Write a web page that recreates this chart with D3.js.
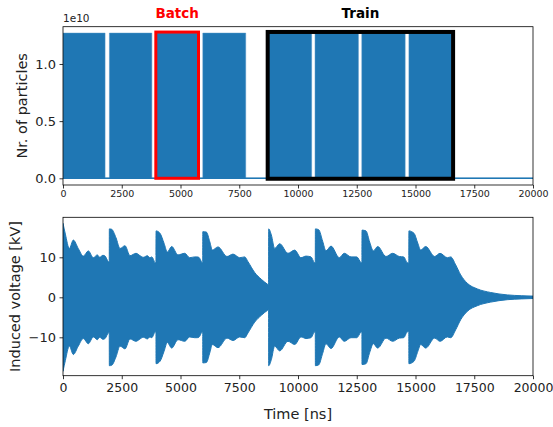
<!DOCTYPE html>
<html>
<head>
<meta charset="utf-8">
<script src="https://cdn.jsdelivr.net/npm/d3@7"></script>
<style>
  body { margin: 0; background: #fff; }
  svg { font-family: "DejaVu Sans", sans-serif; }
</style>
</head>
<body>
<div id="chart"></div>
<script>
// ---- data ----
const batchStart = [0, 1975, 3965, 5950, 8740, 10725, 12715, 14720];   // ns
const batchEnd   = [1790, 3780, 5770, 7775, 10580, 12570, 14560, 16545]; // ns
const bunchIntensity = 1.27e10;

// highlight boxes: [t0, t1, n0, n1]
const batchBox = [3950, 5766, 0, 1.279e10];
const trainBox = [8710, 16600, -0.004e10, 1.28e10];

// induced voltage envelope (kV), the RF oscillation fills +/- envelope
const envTime = [0, 100, 270, 440, 650, 865, 1077, 1290, 1460, 1560, 1700, 1790, 1930, 1968,
  1972, 2070, 2255, 2426, 2638, 2851, 3106, 3277, 3419, 3589, 3702, 3780, 3915, 3956,
  3960, 4128, 4300, 4440, 4625, 4894, 5179, 5391, 5600, 5700, 5780, 5915, 5946,
  5950, 6100, 6250, 6355, 6596, 6979, 7234, 7519, 7732, 7872, 8157, 8440, 8694, 8748,
  8753, 8865, 9008, 9221, 9574, 9860, 10128, 10340, 10553, 10695, 10735,
  10740, 10880, 11050, 11191, 11404, 11757, 11970, 12255, 12500, 12681, 12720,
  12725, 12894, 13050, 13206, 13392, 13745, 14030, 14311, 14500, 14638, 14715,
  14720, 14936, 15100, 15221, 15434, 15817, 16043, 16355, 16498, 16711, 16923,
  17206, 17632, 18200, 18906, 19500, 20000];
const envKV = [18.5, 15.8, 12.2, 14.3, 12.2, 10.3, 11.6, 9.9, 10.6, 10.0, 10.5, 10.3, 8.9, 8.8,
  17.1, 17.0, 14.9, 12.2, 12.9, 10.4, 11.0, 10.4, 10.0, 10.4, 9.9, 10.1, 8.7, 8.6,
  16.6, 16.0, 13.5, 11.3, 12.7, 10.6, 11.0, 9.9, 10.1, 10.1, 10.0, 8.7, 8.6,
  16.4, 16.3, 13.8, 11.8, 12.6, 10.2, 10.8, 9.9, 10.1, 8.9, 6.2, 4.5, 3.3, 3.1,
  17.1, 15.6, 12.2, 13.4, 11.0, 11.8, 9.9, 10.3, 10.1, 8.7, 8.6,
  17.1, 16.9, 14.0, 11.6, 12.8, 9.9, 11.0, 10.1, 10.1, 8.7, 8.6,
  16.8, 16.6, 13.8, 11.6, 12.7, 10.2, 11.0, 10.2, 10.1, 8.7, 8.5,
  16.6, 16.0, 13.5, 11.8, 12.7, 10.2, 11.0, 9.9, 10.1, 8.1, 5.6,
  3.5, 2.1, 1.2, 0.6, 0.4, 0.3];

const xTicks = [0, 2500, 5000, 7500, 10000, 12500, 15000, 17500, 20000];
const topYTicks = [0, 0.5e10, 1e10];
const topYLabels = ["0.0", "0.5", "1.0"];
const botYTicks = [-10, 0, 10];
const botYLabels = ["\u221210", "0", "10"];

// ---- layout ----
const W = 553, H = 427;
const left = 63, right = 533;
const top1 = 26.7, bot1 = 185;
const top2 = 217.3, bot2 = 375.7;
const blue = "#1f77b4";

const svg = d3.select("#chart").append("svg")
  .attr("width", W).attr("height", H);

const x = d3.scaleLinear().domain([0, 20000]).range([left, right]);
const y1 = d3.scaleLinear().domain([-0.0586e10, 1.326e10]).range([bot1, top1]);
const y2 = d3.scaleLinear().domain([-19.6, 20.0]).range([bot2, top2]);

function styleAxis(g, size) {
  g.select(".domain").remove();
  g.selectAll(".tick line").attr("stroke", "#000").attr("stroke-width", 0.8);
  g.selectAll(".tick text").attr("fill", "#222").style("font-size", size + "px")
    .style("font-family", "DejaVu Sans, sans-serif");
}

/* ===== top panel: filling pattern ===== */
svg.append("defs").append("clipPath").attr("id", "clip1")
  .append("rect").attr("x", left).attr("y", top1).attr("width", right - left).attr("height", bot1 - top1);

const profile = [[0, 0]];
batchStart.forEach((s, i) => {
  profile.push([s, 0], [s, bunchIntensity], [batchEnd[i], bunchIntensity], [batchEnd[i], 0]);
});
profile.push([20000, 0]);

svg.append("path")
  .datum(profile)
  .attr("clip-path", "url(#clip1)")
  .attr("fill", blue)
  .attr("stroke", "#4a90c4")
  .attr("stroke-width", 0.5)
  .attr("d", d3.area().x(d => x(d[0])).y0(y1(0)).y1(d => y1(d[1])));

// empty buckets stay at zero
svg.append("line")
  .attr("x1", x(0)).attr("x2", x(20000))
  .attr("y1", y1(0)).attr("y2", y1(0))
  .attr("stroke", blue).attr("stroke-width", 1.5);

// highlight boxes
svg.append("rect")
  .attr("x", x(batchBox[0])).attr("y", y1(batchBox[3]))
  .attr("width", x(batchBox[1]) - x(batchBox[0])).attr("height", y1(batchBox[2]) - y1(batchBox[3]))
  .attr("fill", "none").attr("stroke", "#ff0000").attr("stroke-width", 3);
svg.append("rect")
  .attr("x", x(trainBox[0])).attr("y", y1(trainBox[3]))
  .attr("width", x(trainBox[1]) - x(trainBox[0])).attr("height", y1(trainBox[2]) - y1(trainBox[3]))
  .attr("fill", "none").attr("stroke", "#000").attr("stroke-width", 4);

svg.append("text").attr("x", (x(batchBox[0]) + x(batchBox[1])) / 2).attr("y", 18)
  .attr("text-anchor", "middle").attr("fill", "#ff0000").attr("font-weight", "bold")
  .style("font-size", "13.5px").text("Batch");
svg.append("text").attr("x", (x(trainBox[0]) + x(trainBox[1])) / 2).attr("y", 18)
  .attr("text-anchor", "middle").attr("fill", "#000").attr("font-weight", "bold")
  .style("font-size", "13.5px").text("Train");

svg.append("rect").attr("x", left).attr("y", top1).attr("width", right - left).attr("height", bot1 - top1)
  .attr("fill", "none").attr("stroke", "#000").attr("stroke-width", 0.8);

svg.append("g").attr("transform", `translate(0,${bot1})`)
  .call(d3.axisBottom(x).tickValues(xTicks).tickSize(3.5).tickPadding(2).tickFormat(d3.format("d")))
  .call(g => styleAxis(g, 9.5));
svg.append("g").attr("transform", `translate(${left},0)`)
  .call(d3.axisLeft(y1).tickValues(topYTicks).tickSize(3.5).tickPadding(3.5)
    .tickFormat((d, i) => topYLabels[i]))
  .call(g => styleAxis(g, 13));

svg.append("text").attr("x", left).attr("y", 22).style("font-size", "10.5px").attr("fill", "#222").text("1e10");
svg.append("text")
  .attr("transform", `translate(27,${(top1 + bot1) / 2}) rotate(-90)`)
  .attr("text-anchor", "middle").style("font-size", "14.5px").attr("fill", "#222")
  .text("Nr. of particles");

/* ===== bottom panel: induced voltage ===== */
const env = envTime.map((t, i) => ({ t: t, v: envKV[i] }));
svg.append("defs").append("clipPath").attr("id", "clip2")
  .append("rect").attr("x", left).attr("y", top2).attr("width", right - left).attr("height", bot2 - top2);

svg.append("path")
  .datum(env)
  .attr("clip-path", "url(#clip2)")
  .attr("fill", blue)
  .attr("stroke", blue)
  .attr("stroke-width", 1)
  .attr("d", d3.area().curve(d3.curveMonotoneX)
    .x(d => x(d.t)).y0(d => y2(-d.v)).y1(d => y2(d.v)));

svg.append("rect").attr("x", left).attr("y", top2).attr("width", right - left).attr("height", bot2 - top2)
  .attr("fill", "none").attr("stroke", "#000").attr("stroke-width", 0.8);

svg.append("g").attr("transform", `translate(0,${bot2})`)
  .call(d3.axisBottom(x).tickValues(xTicks).tickSize(3.5).tickPadding(3.5).tickFormat(d3.format("d")))
  .call(g => styleAxis(g, 12.5));
svg.append("g").attr("transform", `translate(${left},0)`)
  .call(d3.axisLeft(y2).tickValues(botYTicks).tickSize(3.5).tickPadding(3.5)
    .tickFormat((d, i) => botYLabels[i]))
  .call(g => styleAxis(g, 13));

svg.append("text")
  .attr("transform", `translate(20,${(top2 + bot2) / 2}) rotate(-90)`)
  .attr("text-anchor", "middle").style("font-size", "14.5px").attr("fill", "#222")
  .text("Induced voltage [kV]");
svg.append("text").attr("x", (left + right) / 2).attr("y", 419)
  .attr("text-anchor", "middle").style("font-size", "14.5px").attr("fill", "#222")
  .text("Time [ns]");
</script>
</body>
</html>
